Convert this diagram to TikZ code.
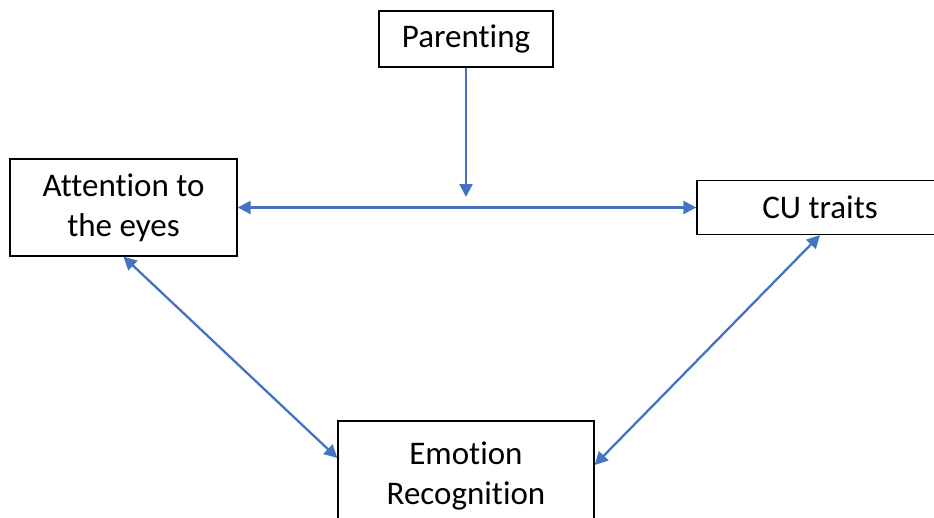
\documentclass[tikz,border=0pt]{standalone}
\usepackage{fontspec}
\setmainfont{Carlito}[Ligatures=NoCommon]
\usetikzlibrary{arrows.meta}
\definecolor{linkblue}{RGB}{68,114,196}

\begin{document}
\begin{tikzpicture}[x=1pt,y=-1pt,
  box/.style={draw,line width=1.3pt,inner sep=0pt,align=center,font=\fontsize{33}{40}\selectfont},
  link/.style={draw=linkblue,line width=2.3pt,-{Triangle[length=13pt,width=13pt]}},
  both/.style={link,{Triangle[length=13pt,width=13pt]}-{Triangle[length=13pt,width=13pt]}}]
  \useasboundingbox (0,0) rectangle (934,517);
  \clip (0,0) rectangle (934,517);
  \node[box,line width=2.2pt,minimum width=174pt,minimum height=56pt] (parenting) at (466,39) {Parenting};
  \node[box,minimum width=227pt,minimum height=97pt] (attention) at (123.5,207.5) {Attention to\\the eyes};
  \node[box,minimum width=246pt,minimum height=54pt] (cu) at (820,207.5) {CU traits};
  \node[box,minimum width=256pt,minimum height=110pt] (emotion) at (466,476) {Emotion\\Recognition};
  \coordinate (hit) at (466,197);
  \draw[link] (parenting.south) -- (hit);
  \draw[both] (attention.east) -- (cu.west);
  \draw[both] (attention.south) -- ([yshift=18pt]emotion.west);
  \draw[both] (cu.south) -- ([yshift=11pt]emotion.east);
\end{tikzpicture}
\end{document}
